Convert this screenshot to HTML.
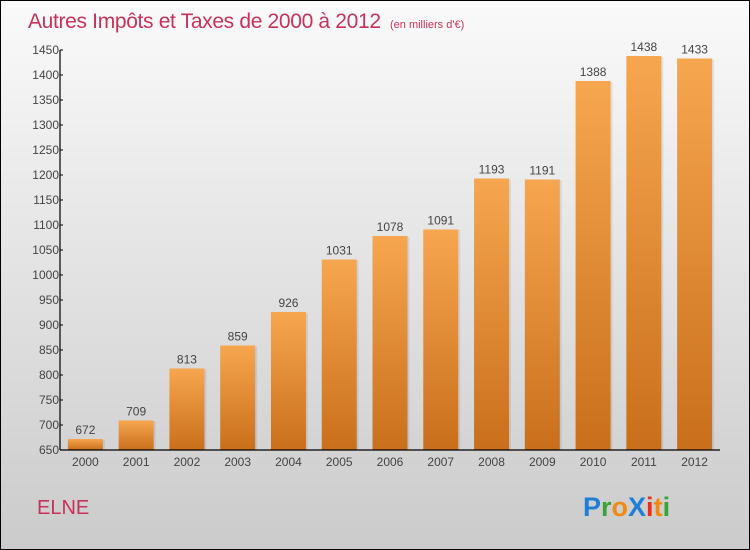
<!DOCTYPE html>
<html><head><meta charset="utf-8"><style>
body{margin:0;}
#c{position:relative;width:748px;height:548px;border:1px solid #000;background:linear-gradient(#fafafa,#cbcbcb);font-family:"Liberation Sans",sans-serif;overflow:hidden;}
</style></head><body>
<div id="c">
<svg id="s" width="748" height="548" xmlns="http://www.w3.org/2000/svg" font-family="Liberation Sans, sans-serif">
<defs>
<linearGradient id="bg" x1="0" y1="0" x2="0" y2="1"><stop offset="0" stop-color="#f7a650"/><stop offset="1" stop-color="#c96f1c"/></linearGradient>
</defs>
<text x="27" y="27" font-size="21" fill="#c8325a" textLength="353">Autres Impôts et Taxes de 2000 à 2012</text>
<text x="389" y="27" font-size="11" fill="#c8325a">(en milliers d'€)</text>
<text x="36" y="513" font-size="20" fill="#c8325a">ELNE</text>
<g font-size="27" font-weight="bold">
<text x="582" y="515"><tspan fill="#1f7fd6">P</tspan><tspan fill="#3aa335">r</tspan><tspan fill="#f08a10">o</tspan><tspan fill="#1f7fd6">X</tspan><tspan fill="#e8301a">i</tspan><tspan fill="#f08a10">t</tspan><tspan fill="#3aa335">i</tspan></text>
</g>
<g id="plot"></g>
</svg>
</div>
<script>
const categories=["2000","2001","2002","2003","2004","2005","2006","2007","2008","2009","2010","2011","2012"];
const values=[672,709,813,859,926,1031,1078,1091,1193,1191,1388,1438,1433];
const yTicks=[650,700,750,800,850,900,950,1000,1050,1100,1150,1200,1250,1300,1350,1400,1450];
const x0=59,x1=719,yMin=650,yMax=1450,py0=449,py1=49;
const slot=(x1-x0)/categories.length;
function xs(i){return x0+slot*(i+0.5);}
function ys(v){return py0-(v-yMin)/(yMax-yMin)*(py0-py1);}
const g=document.getElementById('plot');const NS="http://www.w3.org/2000/svg";
function mk(t,a){const e=document.createElementNS(NS,t);for(const k in a)e.setAttribute(k,a[k]);g.appendChild(e);return e;}
values.forEach((v,i)=>{
 const bw=35,x=xs(i)-bw/2,y=ys(v);
 const sh=mk('rect',{x:x+2,y:y+1,width:bw,height:py0-y-1,fill:'#000',opacity:0.08});
 
 
 const r=mk('rect',{x:x,y:y,width:bw,height:py0-y,fill:'url(#bg)'});
 
 
 const t=mk('text',{x:xs(i),y:y-5,'font-size':12,'text-anchor':'middle',fill:'#444'});t.textContent=v;
 
 
 const c=mk('text',{x:xs(i),y:py0+16,'font-size':12,'text-anchor':'middle',fill:'#444'});c.textContent=categories[i];
 
 
});
yTicks.forEach(v=>{
 const l=mk('line',{x1:x0,x2:x0+3,y1:ys(v),y2:ys(v),stroke:'#000'});
 
 
 const t=mk('text',{x:x0-1,y:ys(v)+4,'font-size':12,'text-anchor':'end',fill:'#444'});t.textContent=v;
 
 
});
const ya=mk('line',{x1:x0,x2:x0,y1:py1,y2:py0,stroke:'#000','stroke-width':1.2});


const xa=mk('line',{x1:x0,x2:x1,y1:py0,y2:py0,stroke:'#000','stroke-width':1.2});


</script>
</body></html>
